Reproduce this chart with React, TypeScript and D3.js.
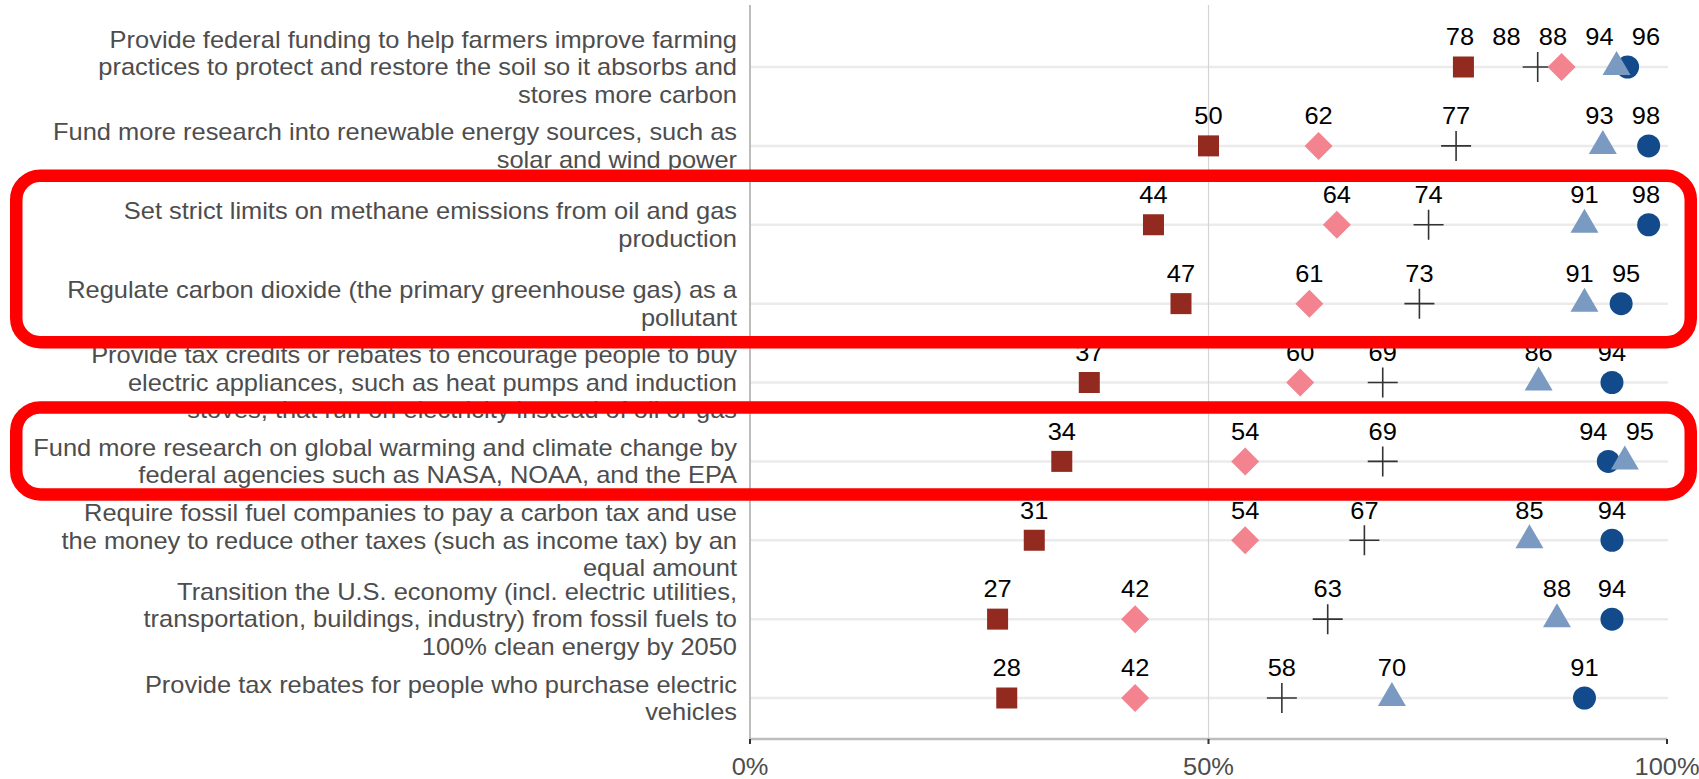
import React from 'react';
import * as d3 from 'd3';

// policy statements, top to bottom (line breaks as in the reference)
const categories = [
  'Provide federal funding to help farmers improve farming\npractices to protect and restore the soil so it absorbs and\nstores more carbon',
  'Fund more research into renewable energy sources, such as\nsolar and wind power',
  'Set strict limits on methane emissions from oil and gas\nproduction',
  'Regulate carbon dioxide (the primary greenhouse gas) as a\npollutant',
  'Provide tax credits or rebates to encourage people to buy\nelectric appliances, such as heat pumps and induction\nstoves, that run on electricity instead of oil or gas',
  'Fund more research on global warming and climate change by\nfederal agencies such as NASA, NOAA, and the EPA',
  'Require fossil fuel companies to pay a carbon tax and use\nthe money to reduce other taxes (such as income tax) by an\nequal amount',
  'Transition the U.S. economy (incl. electric utilities,\ntransportation, buildings, industry) from fossil fuels to\n100% clean energy by 2050',
  'Provide tax rebates for people who purchase electric\nvehicles',
];

// marker positions (percent) and printed labels per group
const squareVals = [77.8, 50, 44, 47, 37, 34, 31, 27, 28];
const squareLabels = ['78', '50', '44', '47', '37', '34', '31', '27', '28'];
const plusVals = [85.9, 77, 74, 73, 69, 69, 67, 63, 58];
const plusLabels = ['88', '77', '74', '73', '69', '69', '67', '63', '58'];
const diamondVals = [88.5, 62, 64, 61, 60, 54, 54, 42, 42];
const diamondLabels = ['88', '62', '64', '61', '60', '54', '54', '42', '42'];
const circleVals = [95.7, 98, 98, 95, 94, 93.6, 94, 94, 91];
const circleLabels = ['96', '98', '98', '95', '94', '94', '94', '94', '91'];
const triangleVals = [94.5, 93, 91, 91, 86, 95.4, 85, 88, 70];
const triangleLabels = ['94', '93', '91', '91', '86', '95', '85', '88', '70'];

const xTicks = [0, 50, 100];

// rows highlighted with red boxes: [firstRow, lastRow, padTop, padBottom]
const highlights: [number, number, number, number][] = [
  [2, 3, 49, 38.5],
  [5, 5, 54, 33],
];

const W = 1699;
const H = 779;
const FONT = '"Liberation Sans", Arial, sans-serif';
const STRETCH = 1.106; // text in the reference is a bit wider than plain Arial

type Shape = 'square' | 'plus' | 'diamond' | 'circle' | 'triangle';

const series: { shape: Shape; color: string; values: number[]; labels: string[] }[] = [
  { shape: 'square', color: '#922A1F', values: squareVals, labels: squareLabels },
  { shape: 'plus', color: '#333333', values: plusVals, labels: plusLabels },
  { shape: 'diamond', color: '#F2838F', values: diamondVals, labels: diamondLabels },
  { shape: 'circle', color: '#134A8C', values: circleVals, labels: circleLabels },
  { shape: 'triangle', color: '#7A9AC2', values: triangleVals, labels: triangleLabels },
];

// push overlapping labels apart, keeping them inside the panel
function spreadLabels(xs: number[], gap: number, max: number): number[] {
  const order = xs.map((x, i) => ({ x, i })).sort((a, b) => a.x - b.x);
  let clusters = order.map(o => ({ items: [o], start: Math.min(o.x, max) }));
  const place = (c: { items: { x: number }[]; start: number }) => {
    const n = c.items.length;
    let s = d3.mean(c.items, (it, k) => it.x - k * gap) as number;
    if (s + (n - 1) * gap > max) s = max - (n - 1) * gap;
    c.start = s;
  };
  let changed = true;
  while (changed) {
    changed = false;
    clusters.forEach(place);
    for (let i = 0; i < clusters.length - 1; i++) {
      const a = clusters[i];
      const b = clusters[i + 1];
      if (a.start + a.items.length * gap > b.start) {
        clusters = [
          ...clusters.slice(0, i),
          { items: [...a.items, ...b.items], start: 0 },
          ...clusters.slice(i + 2),
        ];
        changed = true;
        break;
      }
    }
  }
  const out = new Array(xs.length);
  clusters.forEach(c => c.items.forEach((it, k) => (out[it.i] = c.start + k * gap)));
  return out;
}

function Marker({ shape, color, x, y }: { shape: Shape; color: string; x: number; y: number }) {
  if (shape === 'square') return <rect x={x - 10.5} y={y - 10.5} width={21} height={21} fill={color} />;
  if (shape === 'circle') return <circle cx={x} cy={y} r={11.5} fill={color} />;
  if (shape === 'diamond') {
    const d = 14;
    return <path d={`M${x},${y - d}L${x + d},${y}L${x},${y + d}L${x - d},${y}Z`} fill={color} />;
  }
  if (shape === 'triangle') {
    return <path d={`M${x},${y - 16}L${x + 14},${y + 8}L${x - 14},${y + 8}Z`} fill={color} />;
  }
  return (
    <path d={`M${x - 15},${y}H${x + 15}M${x},${y - 15}V${y + 15}`} stroke={color} strokeWidth={1.6} fill="none" />
  );
}

function WideText({ x, y, children, anchor = 'middle', fill, size = 23 }: {
  x: number; y: number; children: React.ReactNode; anchor?: string; fill: string; size?: number;
}) {
  return (
    <text transform={`translate(${x},${y}) scale(${STRETCH},1)`} textAnchor={anchor} fontSize={size} fill={fill}>
      {children}
    </text>
  );
}

export default function App() {
  const x = d3.scaleLinear().domain([0, 100]).range([750, 1667]);
  const y = d3.scalePoint<number>().domain(d3.range(categories.length)).range([67, 698]);
  const panelTop = 5;
  const panelBottom = 739;

  return (
    <svg width={W} height={H} style={{ position: 'absolute', left: 0, top: 0, background: '#fff' }} fontFamily={FONT}>
      {/* horizontal grid */}
      {categories.map((_, i) => (
        <line key={i} x1={x(0)} x2={x(100) + 1} y1={y(i)} y2={y(i)} stroke="#ebebeb" strokeWidth={2.5} />
      ))}
      <line x1={x(50)} x2={x(50)} y1={panelTop} y2={panelBottom} stroke="#d4d4d4" strokeWidth={1.2} />

      {/* axes */}
      <line x1={x(0)} x2={x(0)} y1={panelTop} y2={panelBottom + 1} stroke="#bdbdbd" strokeWidth={2} />
      <line x1={x(0)} x2={x(100)} y1={panelBottom} y2={panelBottom} stroke="#bdbdbd" strokeWidth={2.5} />
      {xTicks.map(t => (
        <g key={t}>
          <line x1={x(t)} x2={x(t)} y1={panelBottom} y2={panelBottom + 5} stroke="#333" strokeWidth={2} />
          <WideText x={x(t)} y={775} fill="#4d4d4d">{`${t}%`}</WideText>
        </g>
      ))}

      {/* category labels */}
      {categories.map((c, i) => {
        const lines = c.split('\n');
        return (
          <g key={i} transform={`translate(737,${y(i)}) scale(${STRETCH},1)`}>
            <text textAnchor="end" fontSize={23} fill="#4d4d4d">
              {lines.map((ln, k) => (
                <tspan key={k} x={0} y={(k - (lines.length - 1) / 2) * 27.5} dy="0.36em">
                  {ln}
                </tspan>
              ))}
            </text>
          </g>
        );
      })}

      {/* markers */}
      {series.map(s =>
        s.values.map((v, i) => (
          <Marker key={s.shape + i} shape={s.shape} color={s.color} x={x(v)} y={y(i) as number} />
        ))
      )}

      {/* value labels */}
      {categories.map((_, i) => {
        const xs = series.map(s => x(s.values[i]));
        const lx = spreadLabels(xs, 46.5, 1646);
        return series.map((s, j) => (
          <WideText key={`${i}-${j}`} x={lx[j]} y={(y(i) as number) - 21.7} fill="#000">
            {s.labels[i]}
          </WideText>
        ));
      })}

      {/* red highlight boxes */}
      {highlights.map(([a, b, pt, pb], k) => {
        const top = (y(a) as number) - pt;
        const bottom = (y(b) as number) + pb;
        return (
          <rect key={k} x={16.25} y={top} width={1674.5} height={bottom - top} rx={24} ry={24}
            fill="none" stroke="#ff0000" strokeWidth={12.5} />
        );
      })}
    </svg>
  );
}
